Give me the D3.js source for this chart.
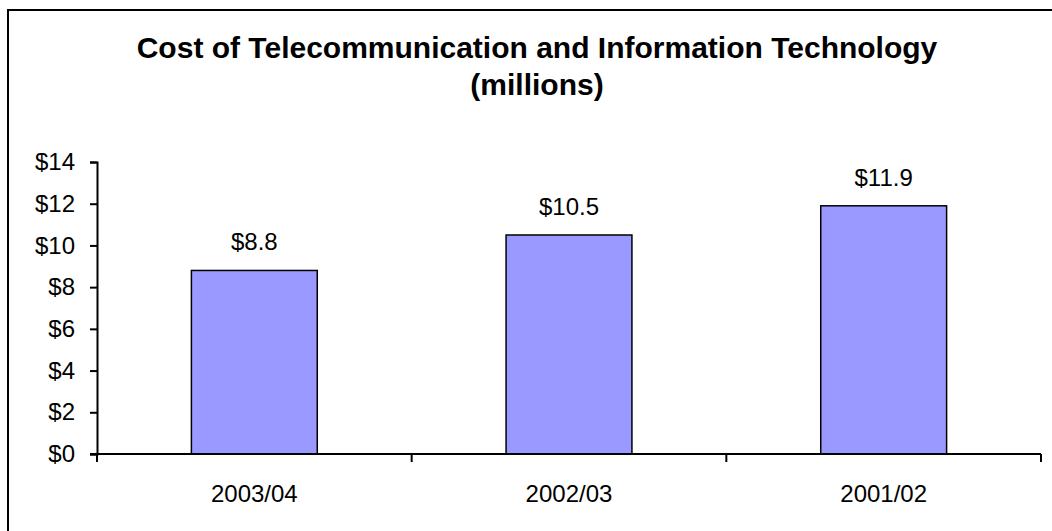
<!DOCTYPE html>
<html><head><meta charset="utf-8">
<script src="https://cdn.jsdelivr.net/npm/d3@7"></script>
<style>body{margin:0;background:#fff}svg{display:block}text{font-family:"Liberation Sans",Arial,sans-serif}</style>
</head><body>
<svg id="c" width="1052" height="531"></svg>
<script>
const categories = ["2003/04", "2002/03", "2001/02"];
const values = [8.8, 10.5, 11.9];
const valueLabels = ["$8.8", "$10.5", "$11.9"];
const yTicks = [0, 2, 4, 6, 8, 10, 12, 14];
const titleLines = ["Cost of Telecommunication and Information Technology", "(millions)"];

const svg = d3.select("#c");
// frame
svg.append("rect").attr("x", 8).attr("y", 10).attr("width", 1100).attr("height", 600)
  .attr("fill", "none").attr("stroke", "#000").attr("stroke-width", 2);

const x0 = 97, x1 = 1041, yTop = 162, yBot = 454;
const x = d3.scaleBand().domain(categories).range([x0, x1]).paddingInner(0.6).paddingOuter(0.3);
const y = d3.scaleLinear().domain([0, 14]).range([yBot, yTop]);

svg.selectAll("text.title").data(titleLines).enter().append("text")
  .attr("x", 537).attr("y", (d, i) => 57.5 + i * 37)
  .attr("text-anchor", "middle").attr("font-weight", "bold").attr("font-size", 30).text(d => d);

svg.selectAll("rect.bar").data(values).enter().append("rect")
  .attr("x", (d, i) => x(categories[i])).attr("width", x.bandwidth())
  .attr("y", d => y(d)).attr("height", d => y(0) - y(d))
  .attr("fill", "#9999FF").attr("stroke", "#000").attr("stroke-width", 1.5);

svg.selectAll("text.val").data(values).enter().append("text")
  .attr("x", (d, i) => x(categories[i]) + x.bandwidth() / 2)
  .attr("y", d => y(d) - 20)
  .attr("text-anchor", "middle").attr("font-size", 24).attr("fill", "#000")
  .text((d, i) => valueLabels[i]);

const yAxis = d3.axisLeft(y).tickValues(yTicks).tickFormat(d => "$" + d).tickSize(7).tickPadding(15);
const gy = svg.append("g").attr("transform", `translate(${x0},0)`).call(yAxis);
gy.select(".domain").attr("stroke-width", 2);
gy.selectAll(".tick line").attr("stroke-width", 2);
gy.selectAll(".tick text").attr("font-size", 24).attr("font-family", "Liberation Sans, Arial, sans-serif").attr("fill", "#000");

// x axis with ticks at band boundaries
const bounds = d3.scaleLinear().domain([0, 3]).range([x0, x1]);
svg.append("line").attr("x1", x0 - 7).attr("x2", x1).attr("y1", yBot).attr("y2", yBot)
  .attr("stroke", "#000").attr("stroke-width", 2);
svg.selectAll("line.xt").data(d3.range(4)).enter().append("line")
  .attr("x1", d => bounds(d)).attr("x2", d => bounds(d)).attr("y1", yBot).attr("y2", yBot + 8)
  .attr("stroke", "#000").attr("stroke-width", 2);
svg.selectAll("text.cat").data(categories).enter().append("text")
  .attr("x", d => x(d) + x.bandwidth() / 2).attr("y", 501.5)
  .attr("text-anchor", "middle").attr("font-size", 24).attr("fill", "#000").text(d => d);
</script>
</body></html>
